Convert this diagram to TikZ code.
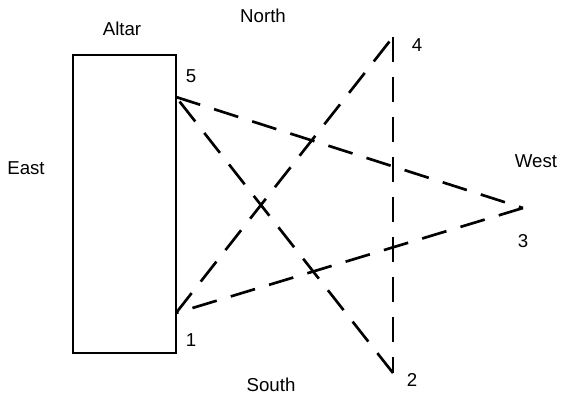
\documentclass[tikz,border=0pt]{standalone}
\usepackage{fontspec}
\setmainfont{Liberation Sans}

\begin{document}
\begin{tikzpicture}[x=0.75pt, y=-0.75pt,
    lbl/.style={font=\fontsize{14}{16}\selectfont},
    ray/.style={line width=2pt, dash pattern=on 19pt off 11pt}]
    \useasboundingbox (0,0) rectangle (563,398);
    % Altar
    \draw[line width=2.2pt] (73,55) rectangle (176,353);
    % Points of the star
    \coordinate (p1) at (176,313);
    \coordinate (p2) at (393,373);
    \coordinate (p3) at (523,208);
    \coordinate (p4) at (393,37);
    \coordinate (p5) at (176,97);
    \draw[ray] (p1) -- (p4);
    \draw[ray] (p4) -- (p2);
    \draw[ray] (p2) -- (p5);
    \draw[ray] (p5) -- (p3);
    \draw[ray] (p3) -- (p1);
    % Numbers
    \node[lbl] (n1) at (191,340) {1};
    \node[lbl] (n2) at (412,380) {2};
    \node[lbl] (n3) at (523,241) {3};
    \node[lbl] (n4) at (417,45) {4};
    \node[lbl] (n5) at (191,76) {5};
    % Directions
    \node[lbl] (altar) at (122,29) {Altar};
    \node[lbl] (north) at (263,16) {North};
    \node[lbl] (east) at (26,168) {East};
    \node[lbl] (west) at (536,161) {West};
    \node[lbl] (south) at (271,385) {South};
\end{tikzpicture}
\end{document}
